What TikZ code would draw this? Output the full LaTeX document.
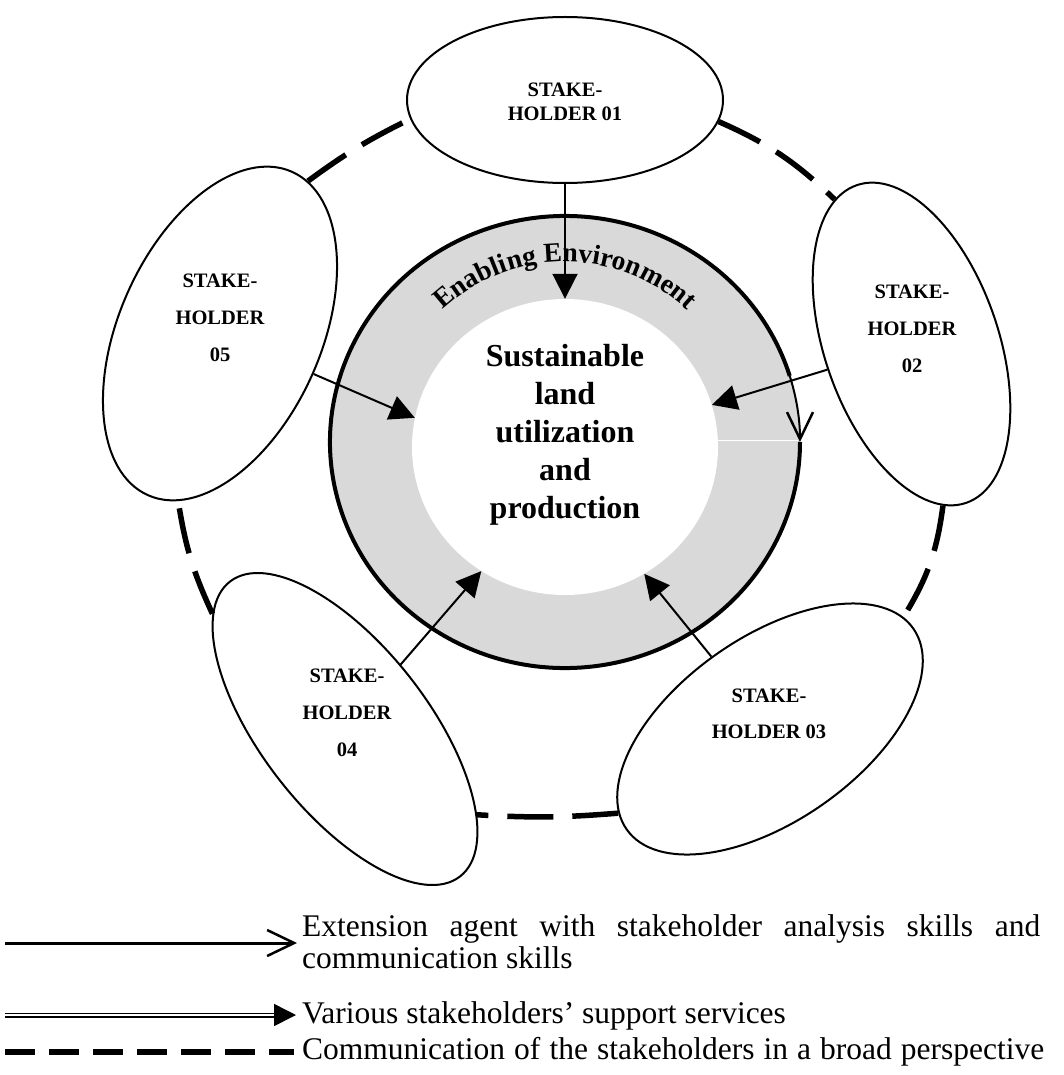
\documentclass[tikz,border=0pt]{standalone}
\usepackage{fontspec}
\setmainfont{Liberation Serif}
\usetikzlibrary{arrows.meta,shapes.geometric,decorations.text,calc}
\definecolor{ringgray}{HTML}{D9D9D9}
\begin{document}
\begin{tikzpicture}[x=1pt,y=1pt,
  holder/.style={draw, ellipse, line width=2pt, fill=white, inner sep=0pt},
  lbl/.style={align=center, font=\bfseries\fontsize{20.5}{37}\selectfont, inner sep=0pt},
  arr/.style={line width=2pt, -{Triangle[length=25pt,width=25pt]}},
  openv/.style={-{Straight Barb[length=27pt,width=26pt,line width=2.5pt]}},
  comm/.style={line width=5.5pt, dash pattern=on 46pt off 19pt},
  legtext/.style={inner sep=0pt, font=\fontsize{31.5}{32}\selectfont}
]
\useasboundingbox (0,0) rectangle (1064,-1075);

% enabling environment ring
\node[ellipse, minimum width=470pt, minimum height=452pt, fill=ringgray, inner sep=0pt] (ring) at (565,-442) {};
\node[ellipse, minimum width=306pt, minimum height=296pt, fill=white, inner sep=0pt] (inner) at (565,-447) {};
\draw[white, line width=1pt] (718,-440) -- (798,-440);
\draw[line width=4pt] ($(ring.center)+(17:235 and 226)$) arc[start angle=17, end angle=360, x radius=235, y radius=226];
\draw[line width=2pt, openv] ($(ring.center)+(17:235 and 226)$) arc[start angle=17, end angle=0, x radius=235, y radius=226];
\path[decorate, decoration={text along path, text align=center,
  text={|\bfseries\fontsize{27.5}{27.5}\selectfont|Enabling Environment}}]
  ($(ring.center)+(162:180)$) arc[start angle=162, end angle=18, radius=180];

\node[align=center, font=\bfseries\fontsize{32}{38}\selectfont, inner sep=0pt] (core) at (565,-435)
  {Sustainable\\land\\utilization\\and\\production};

% stakeholders
\node[holder, minimum width=316pt, minimum height=166pt] (e1) at (565,-100) {};
\node[holder, minimum width=336pt, minimum height=174pt, rotate=-71] (e2) at (911.5,-344) {};
\node[holder, minimum width=350pt, minimum height=184pt, rotate=35] (e3) at (770,-729) {};
\node[holder, minimum width=374pt, minimum height=166pt, rotate=-52] (e4) at (345,-729) {};
\node[holder, minimum width=354pt, minimum height=202pt, rotate=66] (e5) at (220,-333.5) {};

\node[lbl, font=\bfseries\fontsize{20.5}{24}\selectfont] (t1) at (565,-102) {STAKE-\\HOLDER 01};
\node[lbl] (t2) at (912,-329) {STAKE-\\HOLDER\\02};
\node[lbl, font=\bfseries\fontsize{20.5}{36.5}\selectfont] (t3) at (769,-714) {STAKE-\\HOLDER 03};
\node[lbl] (t4) at (347,-713) {STAKE-\\HOLDER\\04};
\node[lbl] (t5) at (220,-318) {STAKE-\\HOLDER\\05};

% communication among stakeholders
\draw[comm] (e5.354) to[bend left=5] (e1.187);
\draw[comm] (e1.352) to[bend left=10] (e2.189);
\draw[comm] (e2.352) to[bend left=12] (e3.5);
\draw[comm] (e3.174) to[bend left=4] (e4.19);
\draw[comm] (e4.191) to[bend left=8] (e5.190);

% extension agent arrows
\draw[arr] (e1) -- (inner.90);
\draw[arr] (e2) -- (inner.16);
\draw[arr] (e3) -- (inner.302);
\draw[arr] (e4) -- (inner.236);
\draw[arr] (e5) -- (inner.169);

% legend
\coordinate (l1a) at (5,-943);
\coordinate (l1b) at (297,-943);
\draw[line width=3pt, openv] (l1a) -- (l1b);
\node[legtext, anchor=north west, text width=738pt, align=justify] (x1) at (302,-914)
  {\hyphenpenalty=10000 Extension agent with stakeholder analysis skills and\linebreak communication skills};

\coordinate (l2a) at (5,-1015);
\coordinate (l2b) at (296,-1015);
\draw[line width=1.5pt, double, double distance=2pt, -{Triangle[length=22pt,width=22pt]}] (l2a) -- (l2b);
\node[legtext, anchor=base west] (x2) at (302,-1023) {Various stakeholders’ support services};

\coordinate (l3a) at (5,-1052);
\coordinate (l3b) at (294,-1052);
\draw[line width=6pt, dash pattern=on 30pt off 14pt] (l3a) -- (l3b);
\node[legtext, anchor=base west, text width=742pt, align=justify] (x3) at (302,-1059)
  {\parfillskip=0pt Communication of the stakeholders in a broad perspective\par};
\end{tikzpicture}
\end{document}
